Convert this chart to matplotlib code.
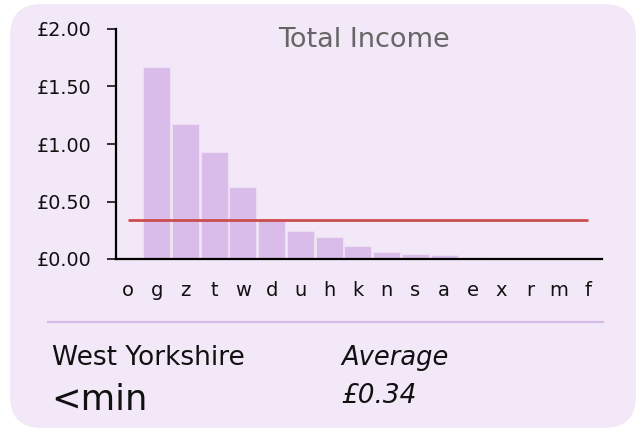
import matplotlib
matplotlib.use('Agg')
import matplotlib.pyplot as plt
from matplotlib.patches import FancyBboxPatch
from matplotlib.ticker import FuncFormatter

# Chart data
categories = ["o", "g", "z", "t", "w", "d", "u", "h", "k", "n", "s", "a", "e", "x", "r", "m", "f"]
income = [0.0, 1.67, 1.17, 0.93, 0.63, 0.35, 0.24, 0.19, 0.11, 0.06, 0.045, 0.035, 0.01, 0.0, 0.0, 0.0, 0.0]
average = 0.34
y_ticks = [0.0, 0.5, 1.0, 1.5, 2.0]

title = "Total Income"
region = "West Yorkshire"
region_value = "<min"
avg_label = "Average"
avg_value = "£0.34"

W, H = 636, 432
fig = plt.figure(figsize=(W / 100, H / 100), dpi=100)
fig.patch.set_facecolor("white")

# Card background, drawn in pixel coordinates
bg = fig.add_axes([0, 0, 1, 1])
bg.set_xlim(0, W)
bg.set_ylim(H, 0)
bg.axis("off")
card = FancyBboxPatch((10, 4), 626, 424, boxstyle="round,pad=0,rounding_size=32",
                      facecolor="#f2e8f7", edgecolor="none")
bg.add_patch(card)
bg.plot([48, 603], [322, 322], color="#d5b9e6", lw=1.5)
bg.text(52, 358, region, fontsize=19, va="center", ha="left", color="#111111")
bg.text(51, 400, region_value, fontsize=25.5, va="center", ha="left", color="#111111")
bg.text(341, 358, avg_label, fontsize=18.5, va="center", ha="left", style="italic", color="#111111")
bg.text(341, 396, avg_value, fontsize=19, va="center", ha="left", style="italic", color="#111111")
bg.text(364, 40, title, fontsize=19.5, va="center", ha="center", color="#666666")

# Bar chart
ax = fig.add_axes([116 / W, 1 - 259 / H, 486 / W, 230 / H])
ax.patch.set_alpha(0)
x = list(range(len(categories)))
ax.bar(x, income, width=0.94, color="#d9bce9", edgecolor="#ecdff4", linewidth=0.8, zorder=2)
ax.hlines(average, 0, len(categories) - 1, color="#cc4d4d", lw=2, zorder=3)

ax.set_xlim(-0.42, len(categories) - 0.5)
ax.set_ylim(0, 2.0)
ax.set_yticks(y_ticks)
ax.yaxis.set_major_formatter(FuncFormatter(lambda v, p: f"£{v:.2f}"))
ax.set_xticks(x)
ax.set_xticklabels(categories)
ax.tick_params(axis="x", length=0, pad=16, labelsize=14, colors="#111111")
ax.tick_params(axis="y", length=6.5, width=1.2, pad=11, labelsize=13.8, colors="#111111")
for side in ["top", "right"]:
    ax.spines[side].set_visible(False)
for side in ["left", "bottom"]:
    ax.spines[side].set_linewidth(1.6)
    ax.spines[side].set_color("black")

fig.savefig("out.png", dpi=100, facecolor=fig.get_facecolor())
